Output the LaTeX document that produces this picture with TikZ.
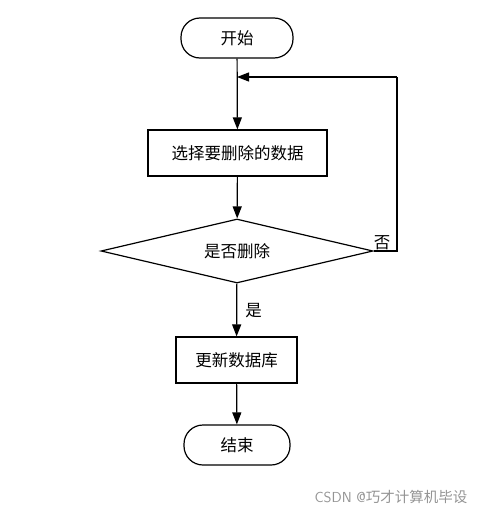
\documentclass[tikz,border=0pt]{standalone}
\usepackage{fontspec}
\newfontfamily\cjk{Noto Sans CJK SC}
\usepackage{tikz}
\usetikzlibrary{calc,shapes.geometric,arrows.meta}
\def\flowarrow{\draw[line width=1.2pt,-{Triangle[length=12pt,width=9pt]}]}

\begin{document}
\begin{tikzpicture}[x=1pt,y=-1pt,inner sep=0pt,
  term/.style={rectangle,rounded corners=19pt,draw=black,line width=1.2pt,minimum width=112pt,minimum height=40pt,font=\cjk\fontsize{16.5}{19}\selectfont},
  stepbox/.style={rectangle,draw=black,line width=1.2pt,minimum height=46pt,font=\cjk\fontsize{16.5}{19}\selectfont},
  choice/.style={diamond,aspect=4.25,draw=black,line width=1.2pt,minimum width=272pt,minimum height=64pt,font=\cjk\fontsize{16.5}{19}\selectfont},
  edgelabel/.style={font=\cjk\fontsize{16.5}{19}\selectfont}]
\useasboundingbox (0,0) rectangle (500,522);

\node[term] (start) at (237,38) {开始};
\node[stepbox,minimum width=179pt] (pick) at (237.5,153) {选择要删除的数据};
\node[choice] (ask) at (237,251) {是否删除};
\node[stepbox,minimum width=121pt] (update) at (236.5,360) {更新数据库};
\node[term,minimum width=106pt] (stop) at (237,445) {结束};

\coordinate (merge) at (237,77); % where the "no" loop comes back
\coordinate (corner_low) at (397,251);
\coordinate (corner_high) at (397,77);

\flowarrow (start) -- (pick);
\flowarrow (pick) -- (ask);
\flowarrow (ask) -- node[edgelabel,right=8pt,yshift=-1pt] {是} (update);
\flowarrow (update) -- (stop);

% the "no" branch back above the selection step
\draw[line width=1.2pt] (ask.east) -- (corner_low) -- (corner_high);
\flowarrow (corner_high) -- (merge);
\node[edgelabel,anchor=south] (no) at (382,250) {否};

\node[font=\sffamily\fontsize{14.5}{17}\selectfont,text=black!42] (watermark) at (391,497) {CSDN @\cjk 巧才计算机毕设};
\end{tikzpicture}
\end{document}
